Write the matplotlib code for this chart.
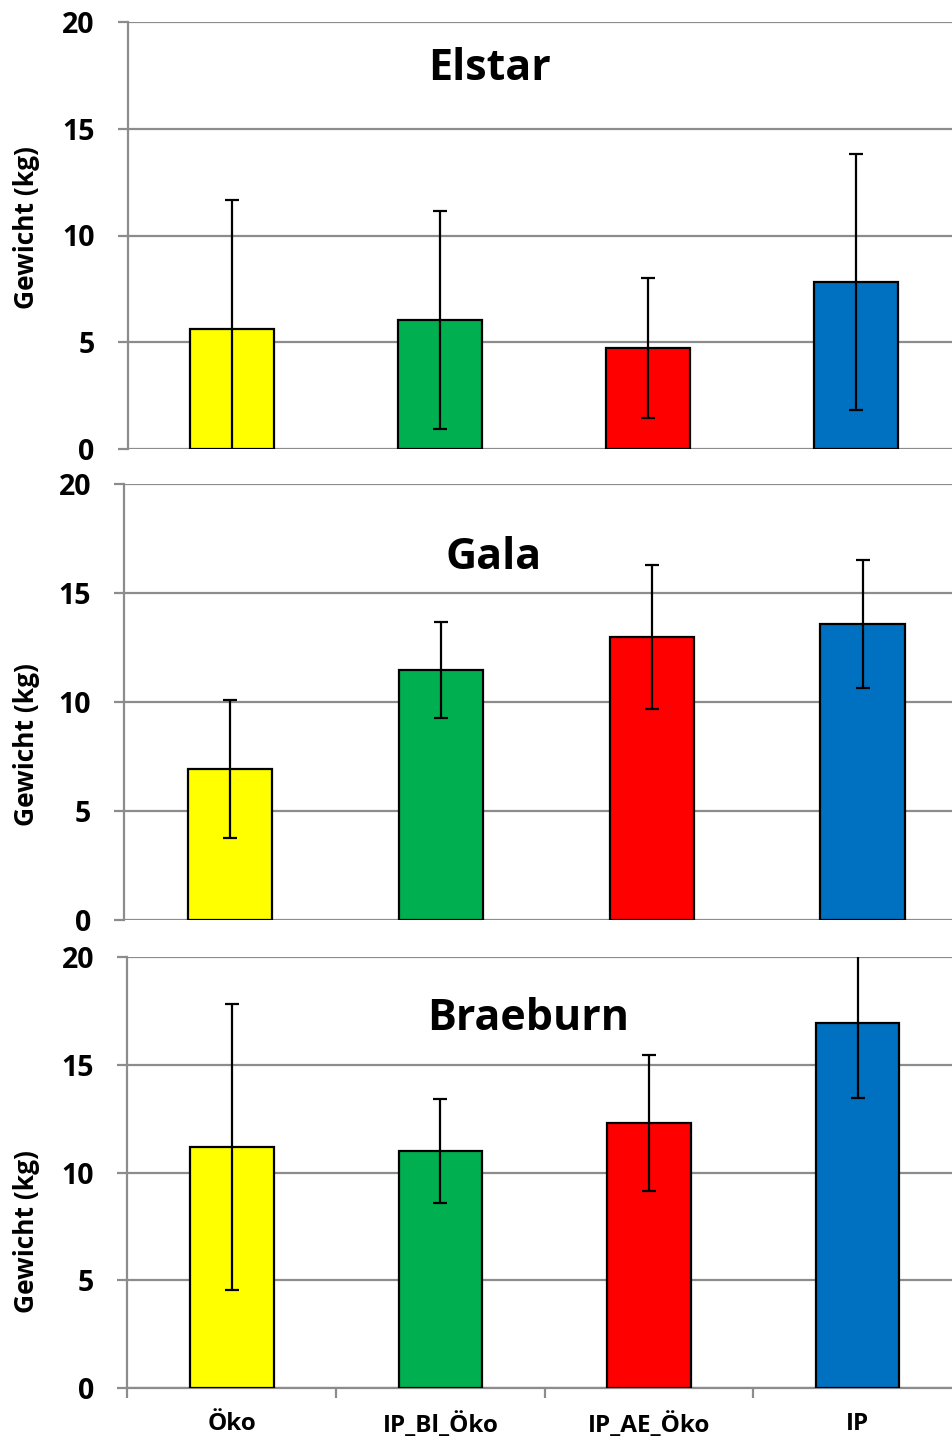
import matplotlib
matplotlib.use("Agg")
import matplotlib.pyplot as plt
import numpy as np

categories = ["Öko", "IP_Bl_Öko", "IP_AE_Öko", "IP"]
colors = ["#FFFF00", "#00B050", "#FF0000", "#0070C0"]

varieties = ["Elstar", "Gala", "Braeburn"]
elstar_mean = [5.62, 6.04, 4.73, 7.82]
elstar_err = [6.05, 5.10, 3.30, 6.00]
gala_mean = [6.93, 11.47, 12.98, 13.58]
gala_err = [3.18, 2.22, 3.30, 2.95]
braeburn_mean = [11.18, 11.0, 12.3, 16.94]
braeburn_err = [6.63, 2.43, 3.15, 3.48]

means = [elstar_mean, gala_mean, braeburn_mean]
errs = [elstar_err, gala_err, braeburn_err]

W, H = 953, 1438
fig = plt.figure(figsize=(W / 100, H / 100), dpi=100)
plt.rcParams['font.family'] = ['Open Sans', 'DejaVu Sans']

# (left_px, right_px, top_px, bottom_px)
boxes = [(128, 960, 22, 449), (124.5, 968, 484, 920), (127.5, 962, 957, 1388)]
title_pos = [(490, 69), (494, 558), (528, 1018)]
ylabel_y = [228, 745, 1232]

grid_c = "#8c8c8c"
for i, (l, r, t, b) in enumerate(boxes):
    ax = fig.add_axes([l / W, 1 - b / H, (r - l) / W, (b - t) / H])
    x = np.arange(len(categories))
    ax.bar(x, means[i], width=0.4, color=colors, edgecolor="black", linewidth=1.6, zorder=3)
    ax.errorbar(x, means[i], yerr=errs[i], fmt="none", ecolor="black", elinewidth=1.6,
                capsize=5, capthick=1.6, zorder=4, clip_on=True)
    ax.set_xlim(-0.5, 3.5)
    ax.set_ylim(0, 20)
    ax.set_yticks([0, 5, 10, 15, 20])
    ax.yaxis.grid(True, color=grid_c, linewidth=1.6, zorder=0)
    ax.set_axisbelow(True)
    for s in ["top", "right", "bottom"]:
        ax.spines[s].set_visible(False)
    ax.spines["left"].set_color(grid_c)
    ax.spines["left"].set_linewidth(1.6)
    ax.tick_params(axis="y", length=7, width=1.6, color=grid_c, pad=17,
                   labelsize=20.5)
    for lab in ax.get_yticklabels():
        lab.set_fontweight("bold")
    if i == 2:
        ax.spines["bottom"].set_visible(True)
        ax.spines["bottom"].set_color(grid_c)
        ax.spines["bottom"].set_linewidth(1.6)
        ax.set_xticks(x)
        ax.set_xticklabels(categories, fontsize=17.5, fontweight="bold")
        ax.tick_params(axis="x", which="major", length=0, pad=17.5)
        ax.set_xticks([-0.5, 0.5, 1.5, 2.5, 3.5], minor=True)
        ax.tick_params(axis="x", which="minor", length=7, width=1.6, color=grid_c)
    else:
        ax.set_xticks([])
    tx, ty = title_pos[i]
    fig.text(tx / W, 1 - ty / H, varieties[i], ha="center", va="center",
             fontsize=31, fontweight="bold")
    fig.text(27 / W, 1 - ylabel_y[i] / H, "Gewicht (kg)", rotation=90, ha="center",
             va="center", fontsize=19, fontweight="bold")

fig.savefig("out.png", dpi=100)
